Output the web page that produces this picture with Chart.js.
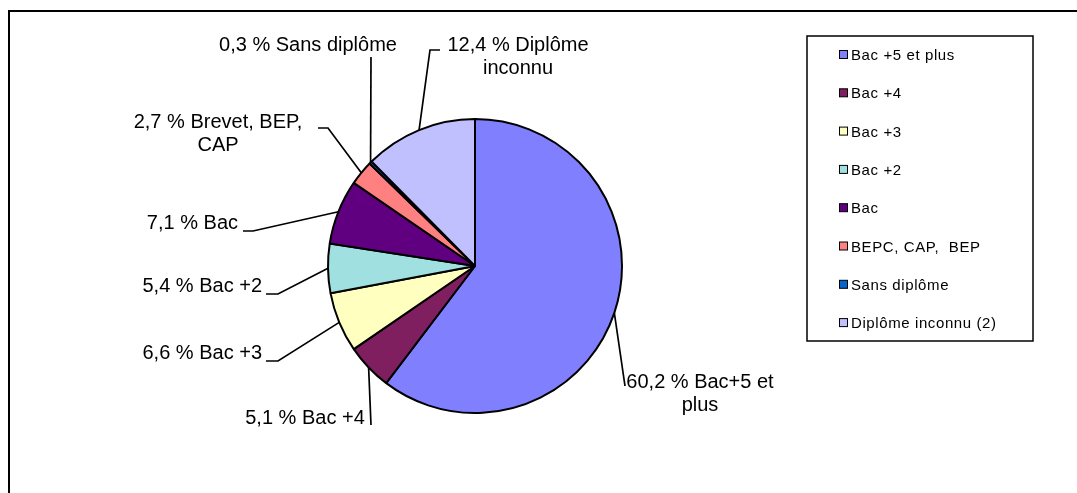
<!DOCTYPE html>
<html>
<head>
<meta charset="utf-8">
<script src="https://cdn.jsdelivr.net/npm/chart.js@4.4.0/dist/chart.umd.js"></script>
<style>
    html, body { margin: 0; padding: 0; background: #fff; }
    canvas { display: block; }
</style>
</head>
<body>
<canvas id="pie" width="1077" height="493"></canvas>
<script>
const categories = ['Bac +5 et plus', 'Bac +4', 'Bac +3', 'Bac +2', 'Bac', 'BEPC, CAP,  BEP', 'Sans diplôme', 'Diplôme inconnu (2)'];
const sliceNames = ['Bac+5 et\nplus', 'Bac +4', 'Bac +3', 'Bac +2', 'Bac', 'Brevet, BEP,\nCAP', 'Sans diplôme', 'Diplôme\ninconnu'];
const shares = [60.2, 5.1, 6.6, 5.4, 7.1, 2.7, 0.3, 12.4];
const colors = ['#8080FF', '#7F1F5F', '#FFFFC0', '#A0E0E0', '#600080', '#FF8080', '#0066CC', '#C0C0FF'];

// where each slice label sits and how its leader line bends (after leaving the pie edge)
const labelPos = [
    { x: 700, y: 382, align: 'center', path: [[625, 386]] },
    { x: 305, y: 418, align: 'center', path: [[371, 425]] },
    { x: 262, y: 353, align: 'right', path: [[278, 361], [266, 361]] },
    { x: 262, y: 286, align: 'right', path: [[278, 294], [266, 294]] },
    { x: 238, y: 223, align: 'right', path: [[253, 231], [243, 231]] },
    { x: 218, y: 122, align: 'center', path: [[328, 128], [318, 128]] },
    { x: 308, y: 45, align: 'center', path: [[371, 57]] },
    { x: 518, y: 45, align: 'center', path: [[430, 50], [440, 50]] },
];

const FONT = '"Liberation Sans", Arial, sans-serif';
const fmt = (v) => v.toFixed(1).replace('.', ',');

const frame = {
    id: 'frame',
    beforeDraw(chart) {
        const ctx = chart.ctx;
        ctx.save();
        ctx.strokeStyle = '#000'; ctx.lineWidth = 2;
        ctx.beginPath(); ctx.moveTo(9, 493); ctx.lineTo(9, 11); ctx.lineTo(1077, 11); ctx.stroke();
        ctx.restore();
    },
};

const leaderLabels = {
    id: 'leaderLabels',
    afterDraw(chart) {
        const ctx = chart.ctx;
        const meta = chart.getDatasetMeta(0);
        ctx.save();
        ctx.strokeStyle = '#000'; ctx.lineWidth = 1.7; ctx.fillStyle = '#000';
        ctx.font = '20px ' + FONT; ctx.textBaseline = 'middle';
        meta.data.forEach((arc, i) => {
            const p = arc.getProps(['x', 'y', 'startAngle', 'endAngle', 'outerRadius'], true);
            const mid = (p.startAngle + p.endAngle) / 2;
            const lp = labelPos[i];
            ctx.beginPath();
            ctx.moveTo(p.x + Math.cos(mid) * p.outerRadius, p.y + Math.sin(mid) * p.outerRadius);
            lp.path.forEach(([x, y]) => ctx.lineTo(x, y));
            ctx.stroke();
            const lines = (fmt(shares[i]) + ' % ' + sliceNames[i]).split('\n');
            ctx.textAlign = lp.align;
            lines.forEach((t, k) => ctx.fillText(t, lp.x, lp.y + k * 23));
        });
        ctx.restore();
    },
};

const boxLegend = {
    id: 'boxLegend',
    afterDraw(chart) {
        const ctx = chart.ctx;
        ctx.save();
        ctx.strokeStyle = '#000'; ctx.lineWidth = 1.5;
        ctx.strokeRect(807, 36, 226, 305);
        ctx.font = '15px ' + FONT; ctx.textBaseline = 'middle'; ctx.textAlign = 'left';
        ctx.letterSpacing = '0.6px';
        categories.forEach((c, i) => {
            const y = 55 + i * 38.3;
            ctx.fillStyle = colors[i];
            ctx.fillRect(839.5, y - 4.5, 8, 8);
            ctx.lineWidth = 1; ctx.strokeStyle = '#000';
            ctx.strokeRect(839.5, y - 4.5, 8, 8);
            ctx.fillStyle = '#000';
            ctx.fillText(c, 851, y + 1);
        });
        ctx.restore();
    },
};

new Chart(document.getElementById('pie'), {
    type: 'pie',
    data: { labels: categories, datasets: [{ data: shares, backgroundColor: colors, borderColor: '#000', borderWidth: 2 }] },
    options: {
        responsive: false, animation: false, devicePixelRatio: 1,
        layout: { padding: { left: 327, right: 454, top: 118, bottom: 79 } },
        plugins: { legend: { display: false }, tooltip: { enabled: false } },
    },
    plugins: [frame, leaderLabels, boxLegend],
});
</script>
</body>
</html>
